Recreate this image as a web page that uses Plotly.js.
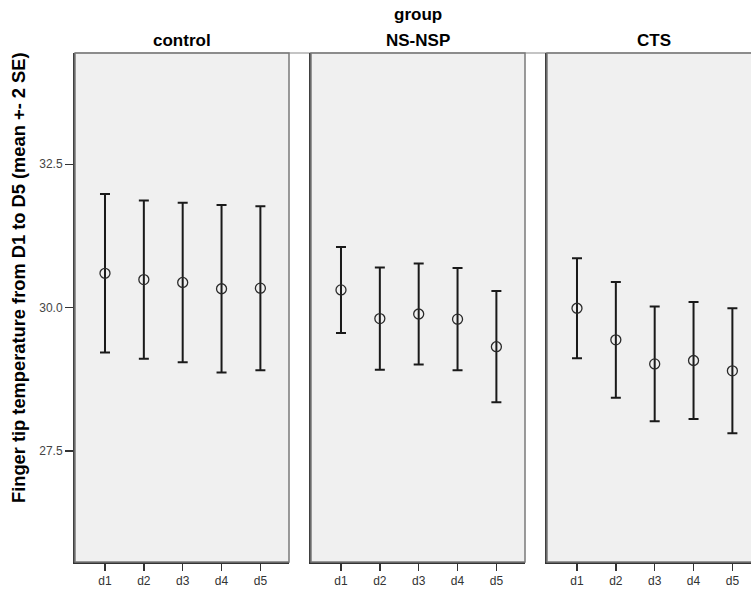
<!DOCTYPE html>
<html>
<head>
<meta charset="utf-8">
<script src="https://cdn.plot.ly/plotly-3.0.1.min.js"></script>
<style>html,body{margin:0;padding:0;background:#fff;}#chart{width:751px;height:593px;}</style>
</head>
<body>
<div id="chart"></div>
<script>
// Data
var fingers = ["d1", "d2", "d3", "d4", "d5"];
var groups = ["control", "NS-NSP", "CTS"];
var meanControl = [30.60, 30.49, 30.44, 30.33, 30.34];
var errControl  = [1.38, 1.38, 1.39, 1.46, 1.43];
var meanNSNSP   = [30.31, 29.81, 29.89, 29.80, 29.32];
var errNSNSP    = [0.75, 0.89, 0.88, 0.89, 0.97];
var meanCTS     = [29.99, 29.44, 29.02, 29.08, 28.90];
var errCTS      = [0.87, 1.01, 1.00, 1.02, 1.09];
var yTicks = [27.5, 30.0, 32.5];
var yTickText = ["27.5", "30.0", "32.5"];

var means = [meanControl, meanNSNSP, meanCTS];
var errs = [errControl, errNSNSP, errCTS];

var W = 751, H = 593, ML = 75, MR = 0, MT = 53, MB = 31;
var plotW = W - ML - MR;
var pxLeft = [75, 311, 547];
var panelPx = 214;
var unitPx = 38.85;
var offsetUnits = 0.772;
var FONT = "Liberation Sans, Arial, sans-serif";

var traces = [];
var layout = {
  width: W, height: H,
  margin: {l: ML, r: MR, t: MT, b: MB, pad: 0},
  paper_bgcolor: "#ffffff",
  plot_bgcolor: "#f0f0f0",
  showlegend: false,
  font: {family: FONT, color: "#000"},
  shapes: [],
  annotations: []
};

var yRange = [25.567, 34.44];

// top light line across gaps
layout.shapes.push({type: "line", xref: "paper", yref: "paper", x0: 0, x1: 1, y0: 1, y1: 1,
  line: {color: "#c4c4c4", width: 2}, layer: "below"});

for (var g = 0; g < 3; g++) {
  var sfx = g === 0 ? "" : String(g + 1);
  var d0 = (pxLeft[g] - ML) / plotW;
  var d1 = Math.min(1, (pxLeft[g] + panelPx - ML) / plotW);
  var visPx = (Math.min(W, pxLeft[g] + panelPx) - pxLeft[g]);
  var xr = [-offsetUnits, visPx / unitPx - offsetUnits];

  traces.push({
    type: "scatter", mode: "markers",
    x: fingers, y: means[g],
    xaxis: "x" + sfx, yaxis: "y" + sfx,
    marker: {symbol: "circle-open", size: 10, color: "#2a2a2a", line: {width: 1.3, color: "#2a2a2a"}},
    error_y: {type: "data", array: errs[g], visible: true, color: "#1a1a1a", thickness: 2, width: 5},
    hoverinfo: "x+y"
  });

  layout["xaxis" + sfx] = {
    domain: [d0, d1], anchor: "y" + sfx, type: "category",
    range: xr, showgrid: false, zeroline: false,
    showline: true, linecolor: "#333333", linewidth: 2,
    ticks: "outside", ticklen: 7, tickwidth: 1.5, tickcolor: "#333",
    tickfont: {size: 12, color: "#333", family: FONT},
    fixedrange: true
  };
  layout["yaxis" + sfx] = {
    domain: [0, 1], anchor: "x" + sfx, range: yRange,
    showgrid: false, zeroline: false,
    showline: true, linecolor: "#404040", linewidth: 2,
    tickvals: yTicks, ticktext: yTickText,
    ticks: g === 0 ? "outside" : "", ticklen: 8, tickwidth: 1.5, tickcolor: "#333",
    showticklabels: g === 0,
    tickfont: {size: 12, color: "#444", family: FONT},
    fixedrange: true
  };
  // gray top and right border
  layout.shapes.push({type: "rect", xref: "x" + sfx + " domain", yref: "y" + sfx + " domain",
    x0: 0, x1: g === 2 ? 1.2 : 1, y0: 0, y1: 1, line: {color: "#7a7a7a", width: 1.5}, layer: "above"});

  layout.annotations.push({
    text: "<b>" + groups[g] + "</b>", xref: "paper", yref: "paper",
    x: (pxLeft[g] + panelPx / 2 - ML) / plotW, y: 1, yshift: 13,
    xanchor: "center", yanchor: "middle", showarrow: false,
    font: {size: 17, color: "#000"}
  });
}

layout.annotations.push({
  text: "<b>group</b>", xref: "paper", yref: "paper",
  x: (418 - ML) / plotW, y: 1, yshift: 39,
  xanchor: "center", yanchor: "middle", showarrow: false,
  font: {size: 17, color: "#000"}
});
layout.annotations.push({
  text: "<b>Finger tip temperature from D1 to D5 (mean +- 2 SE)</b>",
  xref: "paper", yref: "paper",
  x: (18 - ML) / plotW, y: (H - MB - 278) / (H - MT - MB),
  xanchor: "center", yanchor: "middle", textangle: -90, showarrow: false,
  font: {size: 18.3, color: "#000"}
});

Plotly.newPlot("chart", traces, layout, {displayModeBar: false, staticPlot: true});
</script>
</body>
</html>
